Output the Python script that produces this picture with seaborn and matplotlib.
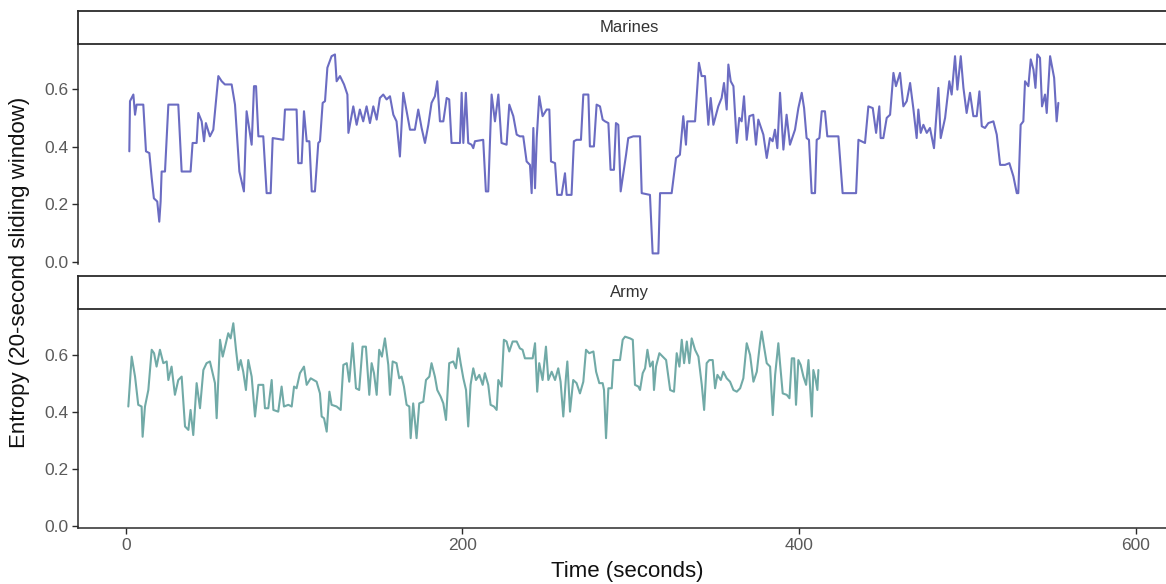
import pandas as pd
import matplotlib
matplotlib.use("Agg")
import matplotlib.pyplot as plt
import seaborn as sns

# Entropy series (time in seconds, entropy over 20 s window)
marines_time = [
    2, 2.4, 4.4, 5.4, 6.3, 10.3, 11.9, 13.9, 15.3, 16.6, 18.6, 19.8, 20.6, 21.2, 23.2,
    25.2, 31.1, 33.1, 38.4, 39.6, 42, 43, 45, 46.4, 47.5, 49.9, 51.9, 54.9, 56.9, 58.8,
    62.8, 64.8, 67.4, 70.1, 71.7, 74.7, 76.1, 77.3, 78.7, 81.6, 83.6, 86, 87.2, 93.5,
    94.5, 101.4, 102.4, 104.4, 105.8, 107.4, 109, 110.4, 112.3, 114.3, 115.3, 116.9,
    118.3, 119.7, 122.2, 124.2, 125.2, 127.2, 129.6, 131.6, 132.2,
    135.1, 137.1, 139, 141, 143, 145, 147, 149, 150.9, 152.9, 154.9, 156.9, 158.9,
    160.8, 162.8, 164.8, 166.8, 168.8, 171.7, 173.7, 175.7, 177.7, 179.7, 181.6, 183.6,
    185, 186.6, 188.6, 190.6, 192.1, 193.5, 198.5, 199.5, 200.5, 202, 203.4, 205.4,
    206.4, 207.4, 212.3, 213.9, 215.3, 217.3, 219.3, 221.3, 223.2, 226.2, 227.8, 230.2,
    232.2, 234.1, 236.1, 238.1, 240.1, 241.1, 242.1, 243.1, 244.1, 245.6, 247.6, 250,
    251.6, 252.6, 255, 256.3, 258.9, 260.9, 261.9, 264.8, 266.2, 267.8, 270.4, 271.8,
    274.8, 275.7, 278.1, 279.7,
    281.7, 283.3, 284.7, 286.7, 288, 290, 291.2, 292.6, 294, 295.6, 297.2, 298.5, 301.5,
    305.5, 306.5, 311.4, 313, 316.4, 317.4, 324.3, 326.9, 329.2, 331.2, 332.8, 333.6,
    338.2, 340.5, 342.1, 344.1, 346.1, 347.5, 349.1, 352, 354, 355.4, 357, 358, 359.4,
    361, 363, 364.5, 365.9, 367.3, 368.9, 370.5, 372.8, 374.4, 375.8, 378.8, 380.8,
    382.7, 384.3, 385.7, 387.1, 388.7, 390.7, 392.6, 394.6, 397.6, 399.6, 401.6, 403,
    404.5, 405.9, 407.5, 409.5, 410.5, 412.1, 413.5, 415.4, 416.8, 423.4, 425.9,
    433.9, 435.3, 439.2, 441.2, 443.8, 445.8, 447.7, 448.5, 450.1, 452.1, 454.1, 456.1,
    457.6, 460, 462, 464, 466, 467.9, 469.9, 470.9, 472.3, 473.9, 475.9, 477.8, 480.2,
    482.8, 484.2, 486.8, 489.3, 490.7, 492.7, 494.1, 496.1, 497.7, 499.6, 501.6, 503.6,
    505.6, 507.2, 508.6, 510.5, 512.5, 515.5, 517.5, 519.5, 522.4, 525, 527.4, 529.4,
    530.3, 531.7, 533.3, 534.3, 536.3, 537.7, 539.3, 540.5, 541.6, 543.2, 544.4, 546.2,
    547.2, 549.2, 551.6, 553.1, 554.1,
]
marines_entropy = [
    .384, .558, .581, .511, .546, .546, .384, .378, .291, .221, .210, .140, .210, .314, .314,
    .546, .546, .314, .314, .413, .413, .517, .488, .419, .482, .436, .459, .645, .627, .616,
    .616, .546, .314, .245, .523, .407, .610, .610, .436, .436, .239, .239, .430, .424,
    .529, .529, .343, .343, .523, .419, .419, .245, .245, .413, .419, .552,
    .558, .674, .714, .720, .627, .645, .616, .581, .448,
    .540, .476, .529, .488, .540, .482, .540, .494, .569, .581, .564, .575, .511,
    .488, .366, .587, .523, .459, .459, .529, .465, .413, .476, .552, .575,
    .627, .488, .488, .569, .564, .413, .413, .587, .413, .587, .413, .407,
    .395, .419, .424, .245, .245, .581, .488, .581, .413, .407, .546, .506,
    .442, .436, .436, .349, .337, .239, .465, .256, .430, .575, .506, .529,
    .529, .349, .343, .233, .233, .308, .233, .233, .419, .424, .424, .581,
    .581, .401, .401, .546,
    .540, .494, .488, .482, .320, .320, .482, .476, .245, .308, .372, .430, .436,
    .436, .239, .233, .030, .030, .239, .239, .361, .372, .506, .407, .488,
    .488, .691, .645, .645, .476, .569, .476, .540, .569, .621, .529, .685, .627,
    .610, .413, .500, .488, .575, .424, .506, .511, .407, .494, .442, .361,
    .430, .419, .459, .395, .587, .390, .511, .407, .459, .534, .587, .534,
    .430, .424, .239, .239, .424, .430, .523, .523, .436, .436, .239,
    .239, .424, .413, .540, .534, .448, .540, .430, .430, .500, .511, .656,
    .610, .656, .540, .558, .621, .534, .430, .529, .448, .476, .448, .465, .395,
    .604, .430, .500, .627, .581, .714, .598, .714, .604, .517, .587, .506,
    .506, .592, .471, .465, .482, .488, .442, .337, .337, .343, .297, .239,
    .239, .476, .488, .627, .610, .703, .668, .604, .720, .708, .540, .581,
    .517, .714, .639, .488, .552,
]

army_time = [
    1.4, 3.4, 5.4, 7.3, 9.3, 9.9, 11.3, 13.3, 15.3, 16.7, 18.2, 20.2, 22.2, 24.2, 25.2,
    27.1, 29.1, 31.1, 33.1, 35.1, 37.1, 38.4, 40, 42, 44, 46, 47.9, 49.9, 51.5, 52.9,
    53.9, 55.9, 57.5, 59.4, 60.8, 62.2, 63.8, 65.4, 66.8, 68.2, 69.7, 71.3, 72.7, 74.7,
    76.7, 78.7, 81.6, 82.6, 84.6, 86.6, 87.6, 90.5, 92.5, 93.9, 96.5, 98.5, 99.9, 101.4,
    103.4, 105.8, 107.4, 109.8, 113.3, 115.3, 116.3, 117.7, 119.3, 120.9, 122.2, 125.2,
    127.6, 129.2, 131.2, 132.7,
    134.7, 136.7, 138.6, 140.6, 142.6, 144.6, 146, 147.4, 149, 150.5, 152.1, 153.9,
    155.9, 156.9, 158.5, 160.8, 162.4, 163.8, 165.2, 166.8, 168.4, 169.2, 170.7, 172.7,
    174.3, 176.7, 178.3, 180.3, 181.6, 183.6, 185, 187, 188.6, 190.2, 192.1, 194.5,
    196.1, 197.5, 198.9, 200.5, 202.1, 203.4, 204.8, 206.4, 208, 210, 212, 213.3, 215.3,
    216.7, 218.7, 220.3, 221.3, 223.2, 224.6, 226.2, 227.8, 229.8, 232.2, 234.1, 235.7,
    237.1, 241.7, 243.1, 244.4, 245.6, 247.6, 249.6, 251, 253, 255, 256.9, 258.3, 259.9,
    261.5, 262.3, 263.9, 265.8, 267.8, 269.8, 271.8, 273.4, 275.3,
    277.8, 279.4, 281.3, 283.3, 284.1, 285.3, 286.7, 288.7, 289.7, 293.6, 295.2, 296.6,
    299.6, 301.2, 302.5, 304.5, 305.5, 307.1, 308.5, 309.9, 311.5, 313.1, 313.8, 315,
    317, 319, 321, 323.4, 325.7, 327.3, 328.9, 330.3, 331.7, 333.3, 334.8, 336.2, 338.2,
    340.2, 342.2, 343.6, 345.1, 346.7, 348.7, 350.1, 351.5, 353.5, 355, 357, 359, 361,
    363, 365, 366.9, 368.9, 370.9, 372.9, 374.9, 376.8, 377.8, 379.2, 380.8, 382.8,
    384.4, 385.8, 387.7, 388.7, 390.3, 392.7, 394.3, 395.7, 397.1, 398.2, 399.6, 401,
    402.6, 404.2, 405.6, 406.6, 407.6, 408.5, 409.7, 410.9, 411.5,
]
army_entropy = [
    .419, .594, .524, .425, .419, .313, .419, .477, .618, .606, .559, .618, .571, .577, .512,
    .559, .460, .512, .524, .349, .337, .407, .319, .501, .413, .547, .571, .577, .536, .501,
    .378, .653, .594, .641, .676, .658, .711, .618, .547, .582, .541, .477, .582, .524,
    .384, .495, .495, .413, .413, .512, .407, .401, .489, .419, .425, .419, .489, .483,
    .536, .559, .495, .518, .506, .465, .384, .378, .331, .471, .425, .419,
    .407, .565, .571, .506,
    .641, .483, .477, .629, .629, .460, .571, .536, .460, .618, .594, .658,
    .565, .460, .577, .571, .518, .524, .489, .425, .419, .308, .430, .308,
    .430, .436, .512, .524, .571, .524, .477, .454, .430, .372, .571, .577,
    .553, .623, .571, .518, .477, .349, .495, .553, .512, .530, .495, .536, .495,
    .425, .419, .407, .512, .489, .653, .647, .612, .647, .647, .623, .618,
    .588, .588, .641, .471, .571, .512, .629, .512, .541, .512, .553, .506, .384,
    .524, .577, .401, .512, .501, .465, .506, .618, .606,
    .612, .541, .501, .501, .477, .308, .483, .483, .582, .582, .653, .664,
    .658, .653, .495, .489, .477, .536, .553, .618, .559, .577, .477, .559,
    .606, .594, .582, .477, .471, .606, .559, .653, .571, .647, .571, .658, .618,
    .594, .495, .407, .571, .582, .582, .483, .530, .512, .541, .518, .506, .477,
    .471, .483, .518, .641, .600, .506, .541, .641, .682, .629, .571, .559,
    .389, .530, .641, .571, .465, .460, .448, .588, .588, .425, .582, .565,
    .524, .495, .582, .483, .384, .547, .518, .477, .547,
]

facets = ["Marines", "Army"]
line_colors = {"Marines": "#6b6cc2", "Army": "#71aaa7"}
x_ticks = [0, 200, 400, 600]
y_ticks = [0.0, 0.2, 0.4, 0.6]

df = pd.concat([
    pd.DataFrame({"time": marines_time, "entropy": marines_entropy, "branch": "Marines"}),
    pd.DataFrame({"time": army_time, "entropy": army_entropy, "branch": "Army"}),
])

sns.set_style("white")
plt.rcParams["font.family"] = ["Liberation Sans", "DejaVu Sans"]

W, H = 1166, 584
fig = plt.figure(figsize=(W / 100, H / 100), dpi=100)

edge = "#2b2b2b"
tick_grey = "#5a5a5a"
left_px, right_px = 78, 1180

# (strip top, panel top, panel bottom, y-limits) in pixels for each facet
layout = {
    "Marines": (10.5, 43.5, 263.5, (-0.005, 0.758)),
    "Army": (276, 309, 528, (-0.007, 0.761)),
}

for name in facets:
    strip_top, panel_top, panel_bot, ylim = layout[name]

    ax = fig.add_axes([left_px / W, 1 - panel_bot / H,
                       (right_px - left_px) / W, (panel_bot - panel_top) / H])
    sns.lineplot(data=df[df["branch"] == name], x="time", y="entropy",
                 color=line_colors[name], linewidth=1.5, estimator=None,
                 ax=ax, legend=False)
    ax.set_xlim(-28.5, 626.4)
    ax.set_ylim(*ylim)
    ax.set_yticks(y_ticks)
    ax.set_yticklabels([f"{v:.1f}" for v in y_ticks])
    ax.set_xlabel("")
    ax.set_ylabel("")
    for side in ["top", "right"]:
        ax.spines[side].set_visible(False)
    ax.spines["left"].set_color(edge)
    ax.spines["left"].set_linewidth(1.1)
    ax.tick_params(axis="y", length=4, width=1, color=edge, labelsize=12.5,
                   labelcolor=tick_grey, pad=3, left=True)
    if name == "Army":
        ax.spines["bottom"].set_color(edge)
        ax.spines["bottom"].set_linewidth(1.1)
        ax.set_xticks(x_ticks)
        ax.tick_params(axis="x", length=4, width=1, color=edge, labelsize=12.5,
                       labelcolor=tick_grey, pad=3, bottom=True)
    else:
        ax.spines["bottom"].set_visible(False)
        ax.set_xticks([])

    # facet strip
    sax = fig.add_axes([left_px / W, 1 - panel_top / H,
                        (right_px - left_px) / W, (panel_top - strip_top) / H])
    sax.set_xticks([])
    sax.set_yticks([])
    for sp in sax.spines.values():
        sp.set_visible(True)
        sp.set_color(edge)
        sp.set_linewidth(1.3)
    sax.text(0.5, 0.5, name, ha="center", va="center", fontsize=12,
             color="#333333", transform=sax.transAxes)

fig.text(627 / W, 1 - 571 / H, "Time (seconds)", ha="center", va="center",
         fontsize=16, color="#111111")
fig.text(20 / W, 1 - 272 / H, "Entropy (20-second sliding window)", ha="center",
         va="center", rotation=90, fontsize=16, color="#111111")

fig.savefig("out.png", dpi=100)
